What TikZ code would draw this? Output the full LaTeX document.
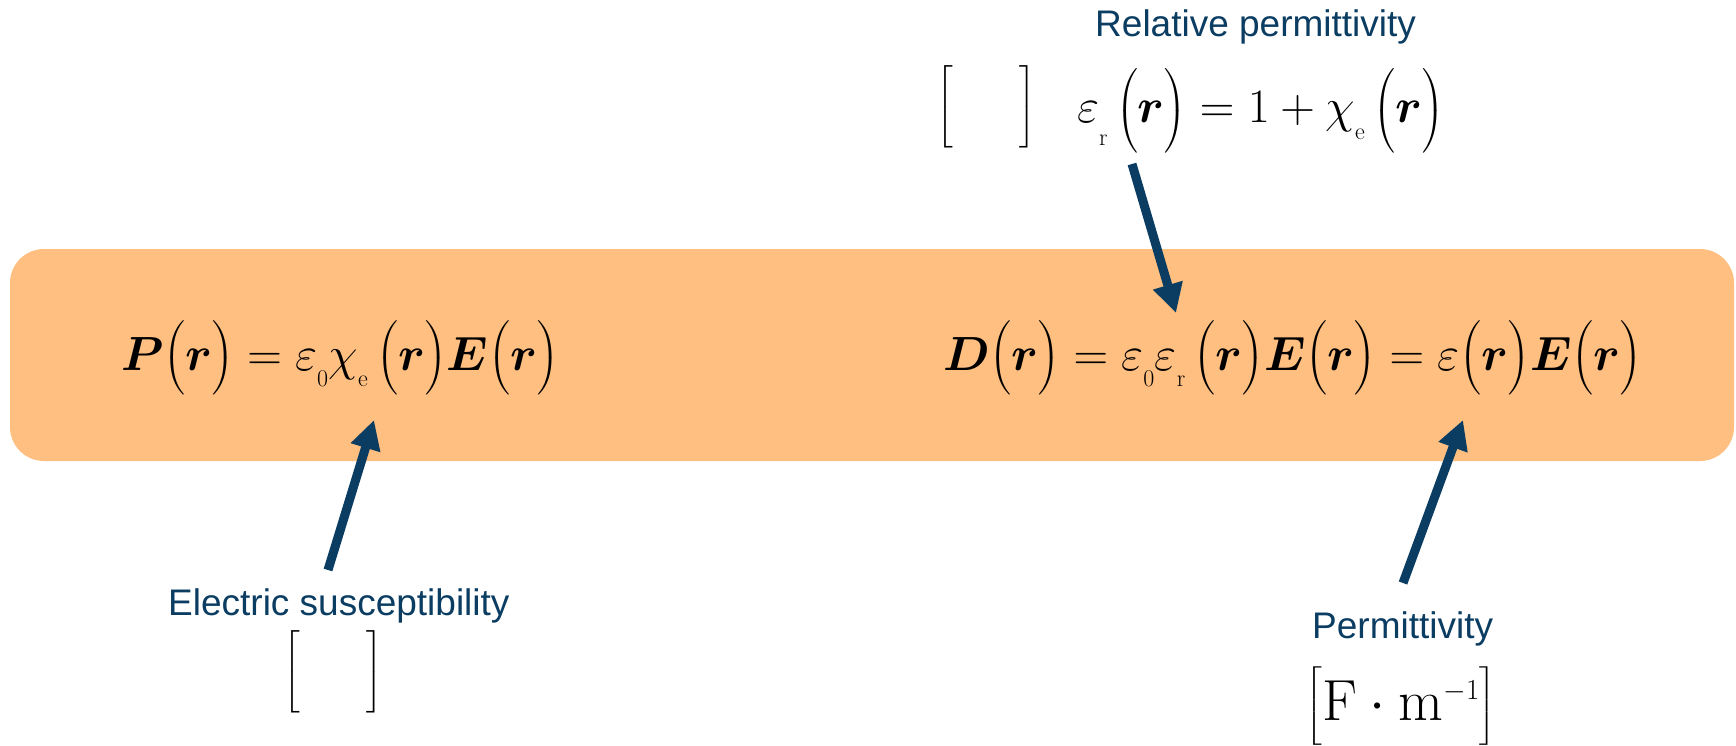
\RequirePackage{fix-cm}
\documentclass[tikz,border=0pt]{standalone}
\usepackage{fontspec}
\usepackage{amsmath}
\usepackage{bm}
\usepackage{graphicx}
\usetikzlibrary{arrows.meta}
\newfontfamily\labfont{Liberation Sans}
\definecolor{bandorange}{RGB}{255,191,128}
\definecolor{navy}{RGB}{11,61,98}
\newcommand\lp[1][0.833]{\mathopen{\vcenter{\hbox{\scalebox{1}[#1]{$\Big($}}}}}
\newcommand\rp[1][0.833]{\mathclose{\vcenter{\hbox{\scalebox{1}[#1]{$\Big)$}}}}}
\newcommand\lbk[1][0.926]{\mathopen{\vcenter{\hbox{\scalebox{1}[#1]{$\Big[$}}}}}
\newcommand\rbk[1][0.926]{\mathclose{\vcenter{\hbox{\scalebox{1}[#1]{$\Big]$}}}}}
\newcommand\lsub[2][9pt]{_{\raisebox{-#1}{$\scriptscriptstyle\mathrm{#2}$}}}
\tikzset{
  band/.style={fill=bandorange, rounded corners=34pt, inner sep=0pt},
  eqn/.style={inner sep=0pt, font=\fontsize{48}{56}\selectfont},
  unitbox/.style={inner sep=0pt, font=\fontsize{48}{56}\selectfont},
  lab/.style={inner sep=0pt, text=navy, font=\labfont\fontsize{37}{44}\selectfont},
  arr/.style={draw=navy, line width=9pt, -{Triangle[length=29pt,width=29pt]}}
}
\begin{document}
\begin{tikzpicture}[x=1pt,y=-1pt]
\useasboundingbox (0,0) rectangle (1736,746);
\node[band, minimum width=1724pt, minimum height=212pt] (band) at (872,355) {};
% equations
\node[eqn, anchor=base west] (peq) at (121,370)
  {$\bm{P}\lp\bm{r}\rp=\varepsilon\lsub{0}\chi\lsub{e}\,\lp\bm{r}\rp\bm{E}\lp\bm{r}\rp$};
\node[eqn, anchor=base west] (deq) at (943,370)
  {$\bm{D}\lp\bm{r}\rp=\varepsilon\lsub{0}\varepsilon\lsub{r}\,\lp\bm{r}\rp\bm{E}\lp\bm{r}\rp=\varepsilon\lp\bm{r}\rp\bm{E}\lp\bm{r}\rp$};
\node[eqn, anchor=base west] (req) at (1077,123)
  {$\varepsilon\lsub[15pt]{r}\,\lp[0.95]\bm{r}\rp[0.95]=1+\chi\lsub{e}\,\lp[0.95]\bm{r}\rp[0.95]$};
% units
\node[unitbox] (ubtop) at (986,107) {$\lbk\hspace{66pt}\rbk$};
\node[unitbox] (ubsus) at (333,672) {$\lbk\hspace{66pt}\rbk$};
\node[unitbox, font=\fontsize{58}{66}\selectfont] (ubperm) at (1401,706)
  {$\lbk[0.75]\mathrm{F}\cdot\mathrm{m}^{\scriptscriptstyle -1}\rbk[0.75]$};
% labels
\node[lab, anchor=base west] (lrel) at (1095,37) {Relative permittivity};
\node[lab, anchor=base west] (lsus) at (168,615) {Electric susceptibility};
\node[lab, anchor=base west] (lperm) at (1312,638) {Permittivity};
% arrows
\coordinate (a1s) at (1132,164); \coordinate (a1e) at (1176,313);
\coordinate (a2s) at (328,570);  \coordinate (a2e) at (374,420);
\coordinate (a3s) at (1403,583); \coordinate (a3e) at (1463,420);
\draw[arr] (a1s) -- (a1e);
\draw[arr] (a2s) -- (a2e);
\draw[arr] (a3s) -- (a3e);
\end{tikzpicture}
\end{document}
